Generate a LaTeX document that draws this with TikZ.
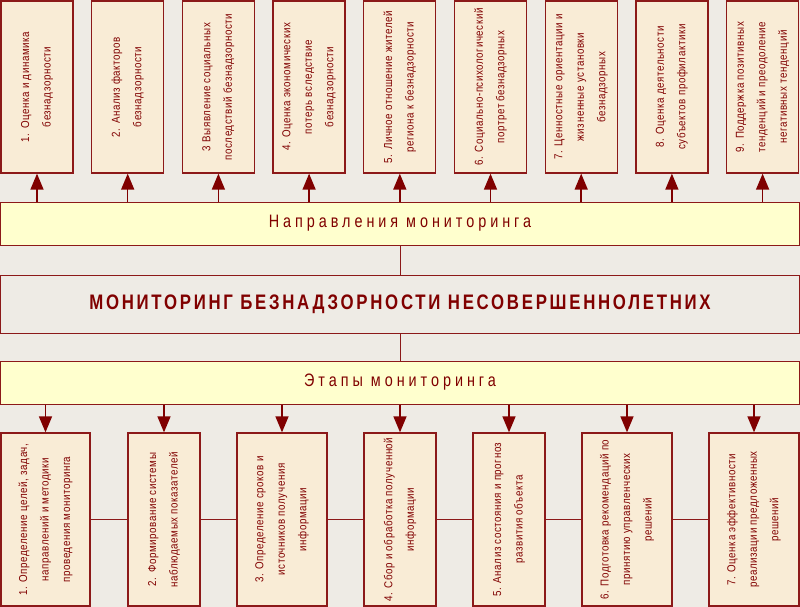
\documentclass[tikz,border=0pt]{standalone}
\usepackage{fontspec}
\setmainfont{Liberation Sans}
\newfontfamily\boxfont{Liberation Sans}[FakeStretch=0.85, LetterSpace=5]
\newfontfamily\spacedfont{Liberation Sans}[FakeStretch=0.8, LetterSpace=22]
\newfontfamily\titlefont{Liberation Sans}[FakeStretch=0.8, LetterSpace=13]
\usetikzlibrary{arrows.meta, positioning}
\definecolor{bgcol}{RGB}{238,235,229}
\definecolor{boxcol}{RGB}{249,236,214}
\definecolor{barcol}{RGB}{255,255,206}
\definecolor{linecol}{RGB}{140,25,25}
\definecolor{textcol}{RGB}{128,0,0}
\tikzstyle{arrow} = [line width=1.5pt, draw=textcol, -{Triangle[length=16pt, width=13pt]}]
\tikzstyle{link} = [line width=1pt, draw=linecol]
\tikzstyle{vbox} = [draw=linecol, line width=1.3pt, fill=boxcol, rotate=90, align=center,
  text=textcol, inner sep=2pt, font=\boxfont\fontsize{11.5}{21.5}\selectfont]
\tikzstyle{bar} = [draw=linecol, line width=1pt, fill=barcol, minimum width=799pt, text=textcol]

\begin{document}
\begin{tikzpicture}[x=1pt, y=-1pt]
    \fill[bgcol] (0,0) rectangle (800,607);
    \useasboundingbox (0,0) rectangle (800,607);
    % central bars
    \node[bar, minimum height=43pt, font=\spacedfont\fontsize{18}{20}\selectfont] (dirbar) at (400,223.5) {Направления мониторинга};
    \node[bar, fill=bgcol, minimum height=58pt, font=\titlefont\bfseries\fontsize{21}{24}\selectfont] (mainbar) at (400,304) {МОНИТОРИНГ БЕЗНАДЗОРНОСТИ НЕСОВЕРШЕННОЛЕТНИХ};
    \node[bar, minimum height=43pt, font=\spacedfont\fontsize{18}{20}\selectfont] (stagebar) at (400,382.5) {Этапы мониторинга};
    \draw[link] (dirbar.south) -- (mainbar.north);
    \draw[link] (mainbar.south) -- (stagebar.north);
    % directions (rotated: .west is the bottom edge)
    \foreach \i/\txt in {1/{1. Оценка и динамика\\безнадзорности},
                         2/{2. Анализ факторов\\безнадзорности},
                         3/{3 Выявление социальных\\последствий безнадзорности},
                         4/{4. Оценка экономических\\потерь вследствие\\безнадзорности},
                         5/{5. Личное отношение жителей\\региона к безнадзорности},
                         6/{6. Социально-психологический\\портрет безнадзорных},
                         7/{7. Ценностные ориентации и\\жизненные установки\\безнадзорных},
                         8/{8. Оценка деятельности\\субъектов профилактики},
                         9/{9. Поддержка позитивных\\тенденций и преодоление\\негативных тенденций}}
    {
      \node[vbox, minimum width=172pt, minimum height=72pt] (d\i) at ({37+90.7*(\i-1)},87) {\txt};
      \draw[arrow] (d\i.west |- dirbar.north) -- (d\i.west);
    }
    % stages (rotated: .east is the top edge)
    \foreach \i/\x/\w/\txt in {1/45.5/89/{1. Определение целей, задач,\\направлений и методики\\проведения мониторинга},
                               2/164/72/{2. Формирование системы\\наблюдаемых показателей},
                               3/282/90/{3. Определение сроков и\\источников получения\\информации},
                               4/400/72/{4. Сбор и обработка полученной\\информации},
                               5/509/72/{5. Анализ состояния и прогноз\\развития объекта},
                               6/627/90/{6. Подготовка рекомендаций по\\принятию управленческих\\решений},
                               7/754/90/{7. Оценка эффективности\\реализации предложенных\\решений}}
    {
      \node[vbox, minimum width=173pt, minimum height=\w pt] (s\i) at (\x,519.5) {\txt};
      \draw[arrow] (s\i.east |- stagebar.south) -- (s\i.east);
    }
    \foreach \i [evaluate=\i as \j using int(\i+1)] in {1,...,6}
      \draw[link] (s\i.south) -- (s\j.north);
\end{tikzpicture}
\end{document}
